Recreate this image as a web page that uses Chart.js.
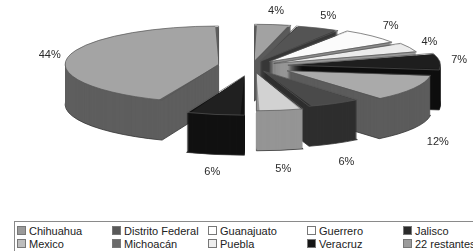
<!DOCTYPE html>
<html>
<head>
<meta charset="utf-8">
<script src="https://cdn.jsdelivr.net/npm/chart.js@4.4.1/dist/chart.umd.min.js"></script>
<style>
  body { margin: 0; background: #fff; width: 473px; height: 251px; overflow: hidden; position: relative; }
  #wrap { position: absolute; left: 0; top: 0; width: 473px; height: 205px; }
  #legend { position: absolute; left: 14px; top: 221px; width: 470px; height: 40px; border: 1px solid #8a8a8a; box-sizing: border-box; font: 11px "Liberation Sans", Arial, sans-serif; color: #222; }
  #legend .item { position: absolute; white-space: nowrap; line-height: 12px; }
  #legend .box { display: inline-block; width: 7px; height: 7px; border: 1px solid #777; margin-right: 3px; vertical-align: 0px; }
</style>
</head>
<body>
<div id="wrap"><canvas id="myChart"></canvas></div>
<div id="legend"></div>
<script>
const categories = ['Chihuahua', 'Distrito Federal', 'Guanajuato', 'Guerrero', 'Jalisco',
    'Mexico', 'Michoacán', 'Puebla', 'Veracruz', '22 restantes'];
const shares = [4, 5, 7, 4, 7, 12, 6, 5, 6, 44];
const pctLabels = shares.map(v => v + '%');

// grey shades: top face, side face, legend marker
const topColors = ['#a2a2a2', '#545454', '#fbfbfb', '#ececec', '#1e1e1e', '#aaaaaa', '#4a4a4a', '#d2d2d2', '#202020', '#a4a4a4'];
const sideColors = ['#5a5a5a', '#383838', '#8c8c8c', '#9a9a9a', '#0e0e0e', '#5c5c5c', '#2e2e2e', '#959595', '#111111', '#5e5e5e'];
const legendColors = ['#9a9a9a', '#595959', '#ffffff', '#ffffff', '#2a2a2a', '#bdbdbd', '#6a6a6a', '#eeeeee', '#151515', '#9c9c9c'];
// chart.js moves an arc by offset / 4
const explode = [40, 40, 48, 48, 72, 80, 48, 56, 80, 68];

// fake 3d: squash the pie into an ellipse and extrude it downwards
const CX = 252, CY = 66, SX = 2.0, SY = 0.5, DEPTH = 40;

// same geometry as ArcElement.draw uses
function slicePath(ctx, el, dy) {
    const mid = (el.startAngle + el.endAngle) / 2;
    const off = (el.options.offset || 0) / 4;
    const circ = el.endAngle - el.startAngle;
    const rad = el.outerRadius + off * (1 - Math.sin(Math.min(Math.PI, circ)));
    const ox = el.x + Math.cos(mid) * off;
    const oy = el.y + Math.sin(mid) * off;
    ctx.save();
    ctx.translate(CX, CY + dy);
    ctx.scale(SX, SY);
    ctx.translate(-el.x, -el.y);
    ctx.beginPath();
    ctx.moveTo(ox, oy);
    ctx.arc(ox, oy, rad, el.startAngle, el.endAngle);
    ctx.closePath();
    ctx.restore();
}

const pie3d = {
    id: 'pie3d',
    beforeDatasetsDraw(chart) {
        const ctx = chart.ctx;
        const all = chart.getDatasetMeta(0).data;
        const arcs = all.slice();
        // back slices first
        arcs.sort((a, b) => Math.sin((a.startAngle + a.endAngle) / 2) - Math.sin((b.startAngle + b.endAngle) / 2));
        arcs.forEach(el => {
            const i = all.indexOf(el);
            ctx.fillStyle = sideColors[i];
            for (let d = DEPTH; d >= 1; d--) {
                slicePath(ctx, el, d);
                ctx.fill();
                if (d === DEPTH) {
                    ctx.strokeStyle = '#333';
                    ctx.lineWidth = 0.8;
                    ctx.stroke();
                }
            }
        });
        ctx.save();
        ctx.translate(CX, CY);
        ctx.scale(SX, SY);
        ctx.translate(-all[0].x, -all[0].y);
    },
    afterDatasetsDraw(chart) {
        const ctx = chart.ctx;
        ctx.restore();
        const arcs = chart.getDatasetMeta(0).data;
        ctx.strokeStyle = '#555';
        ctx.lineWidth = 0.7;
        arcs.forEach(el => {
            slicePath(ctx, el, 0);
            ctx.stroke();
        });
        ctx.save();
        ctx.font = '11px "Liberation Sans", Arial, sans-serif';
        ctx.fillStyle = '#2a2a2a';
        ctx.textAlign = 'center';
        ctx.textBaseline = 'middle';
        arcs.forEach((el, i) => {
            const mid = (el.startAngle + el.endAngle) / 2;
            const s = Math.sin(mid);
            const r = el.outerRadius + (el.options.offset || 0) / 4 + 20;
            const x = CX + Math.cos(mid) * r * SX;
            let y = CY + s * r * SY;
            if (s > 0.2) y += DEPTH + 8 + 6 * s;
            if (s < 0) y += 7 * s;
            ctx.fillText(pctLabels[i], x, y);
        });
        ctx.restore();
    }
};

const data = {
    labels: categories,
    datasets: [{
        data: shares,
        backgroundColor: topColors,
        borderWidth: 0,
        offset: explode,
        radius: 66,
        clip: false
    }]
};

const config = {
    type: 'pie',
    data: data,
    options: {
        responsive: true,
        maintainAspectRatio: false,
        animation: false,
        events: [],
        layout: { padding: 0 },
        plugins: {
            legend: { display: false },
            tooltip: { enabled: false }
        }
    },
    plugins: [pie3d]
};

let myChart = new Chart(document.getElementById('myChart'), config);

// legend as a 5 x 2 grid
const legend = document.getElementById('legend');
const colX = [2, 97, 193, 292, 388];
const rowY = [3, 16];
categories.forEach((name, i) => {
    const item = document.createElement('div');
    item.className = 'item';
    item.style.left = colX[i % 5] + 'px';
    item.style.top = rowY[Math.floor(i / 5)] + 'px';
    item.innerHTML = '<span class="box" style="background:' + legendColors[i] + '"></span>' + name;
    legend.appendChild(item);
});
</script>
</body>
</html>
